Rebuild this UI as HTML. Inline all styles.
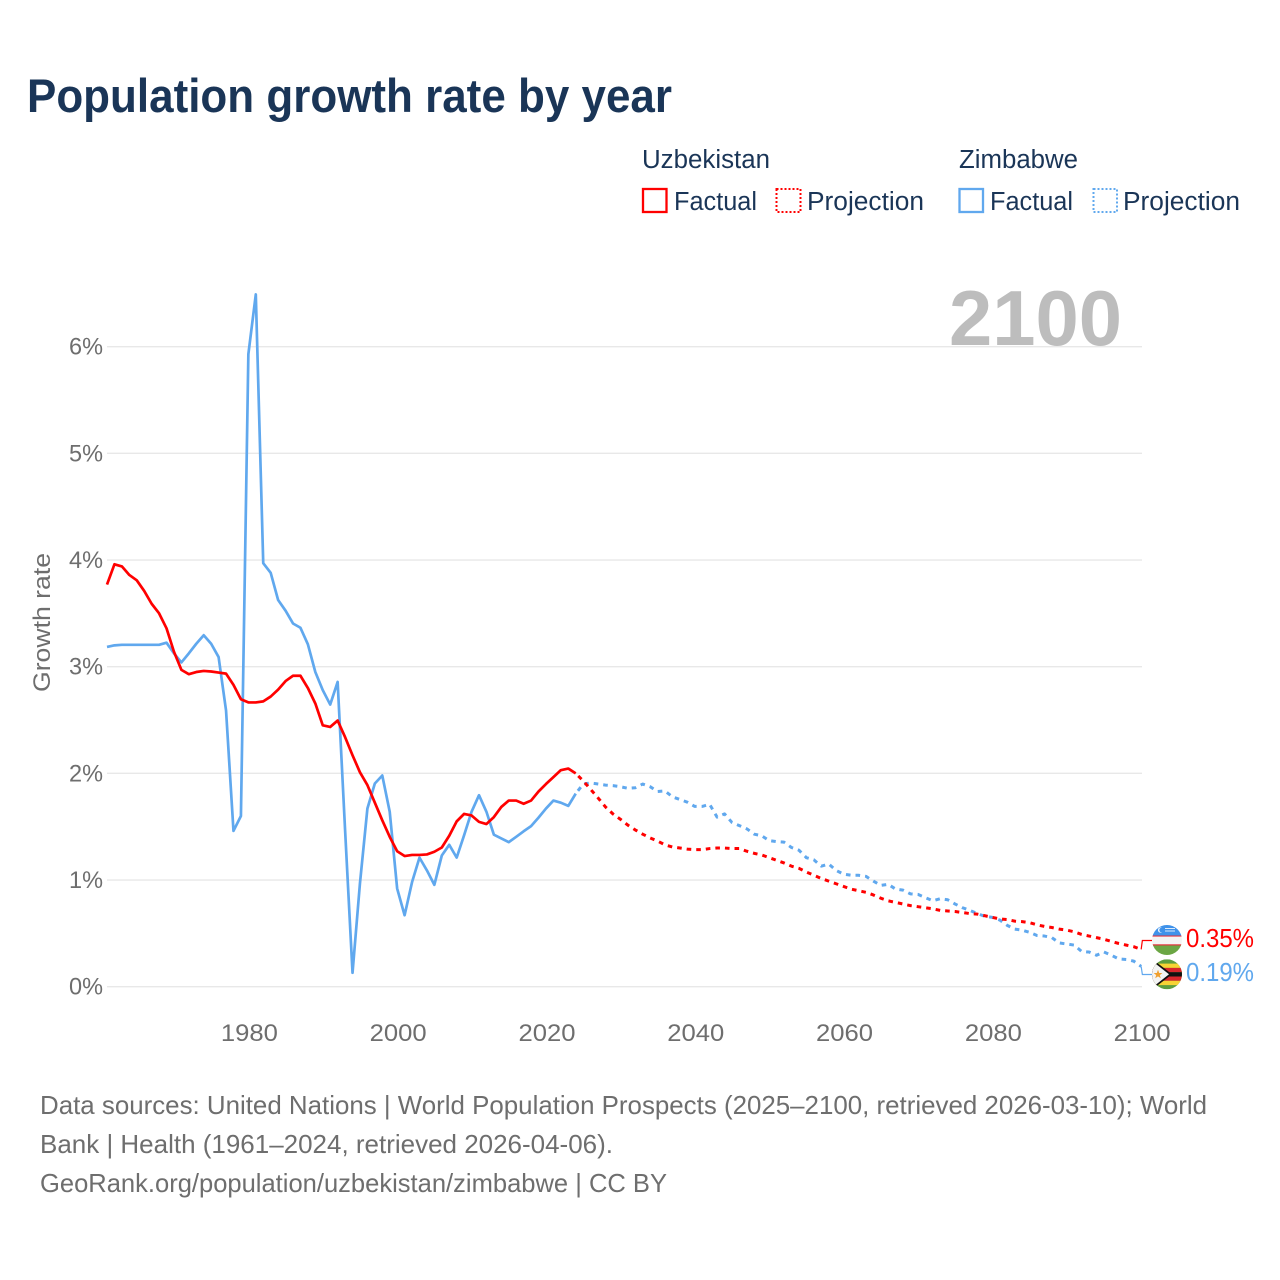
<!DOCTYPE html>
<html lang="en">
<head>
<meta charset="utf-8">
<title>Population growth rate by year</title>
<style>
html,body{margin:0;padding:0;background:#fff;}
svg{display:block;font-family:"Liberation Sans",sans-serif;}
.grid{stroke:#e8e8e8;stroke-width:1.4;}
.tick{font-size:24px;fill:#6e6e6e;}
.legend{font-size:25.5px;fill:#1a3557;}
.foot{font-size:26px;fill:#6e6e6e;}
.line{fill:none;stroke-width:2.7;stroke-linejoin:round;}
.proj{stroke-width:3;stroke-dasharray:4.6 5;stroke-dashoffset:6;}
</style>
</head>
<body>
<svg id="chart" xmlns="http://www.w3.org/2000/svg" width="1280" height="1280" viewBox="0 0 1280 1280">
  <rect width="1280" height="1280" fill="#ffffff"/>
  <text x="27" y="112" font-size="47" font-weight="700" fill="#1a3557" textLength="645" lengthAdjust="spacingAndGlyphs">Population growth rate by year</text>

  <g>
    <text class="legend" x="642" y="168" textLength="128" lengthAdjust="spacingAndGlyphs">Uzbekistan</text>
    <text class="legend" x="959" y="168" textLength="119" lengthAdjust="spacingAndGlyphs">Zimbabwe</text>
    <rect x="643" y="189" width="23.5" height="23" fill="none" stroke="#ff0000" stroke-width="2.3"/>
    <text class="legend" x="674" y="210" textLength="83" lengthAdjust="spacingAndGlyphs">Factual</text>
    <rect x="776.5" y="189" width="24" height="23" fill="none" stroke="#ff0000" stroke-width="2" stroke-dasharray="2 2"/>
    <text class="legend" x="807" y="210" textLength="117" lengthAdjust="spacingAndGlyphs">Projection</text>
    <rect x="959.5" y="189" width="23.5" height="23" fill="none" stroke="#60a8ee" stroke-width="2.3"/>
    <text class="legend" x="990" y="210" textLength="83" lengthAdjust="spacingAndGlyphs">Factual</text>
    <rect x="1093.5" y="189" width="23.5" height="23" fill="none" stroke="#60a8ee" stroke-width="2" stroke-dasharray="2 2"/>
    <text class="legend" x="1123" y="210" textLength="117" lengthAdjust="spacingAndGlyphs">Projection</text>
  </g>

  <g id="grid-layer"></g>
  <text x="949" y="345" font-size="78" font-weight="700" fill="#bdbdbd" textLength="173" lengthAdjust="spacingAndGlyphs">2100</text>
  <g id="y-tick-layer"></g>
  <g id="x-tick-layer"></g>
  <text class="tick" x="0" y="0" transform="translate(50,622.5) rotate(-90)" text-anchor="middle" textLength="139" lengthAdjust="spacingAndGlyphs">Growth rate</text>
  <g id="series-layer"></g>

  <defs>
    <clipPath id="clip-uz"><circle cx="1167" cy="940" r="15"/></clipPath>
    <clipPath id="clip-zw"><circle cx="1167" cy="974.3" r="15"/></clipPath>
  </defs>
  <g clip-path="url(#clip-uz)">
    <rect x="1152" y="925" width="30" height="10.5" fill="#3f92ea"/>
    <rect x="1152" y="935.5" width="30" height="1.2" fill="#e0303a"/>
    <rect x="1152" y="936.7" width="30" height="7.6" fill="#f4f4f4"/>
    <rect x="1152" y="944.3" width="30" height="1.2" fill="#e0303a"/>
    <rect x="1152" y="945.5" width="30" height="9.5" fill="#6ba644"/>
    <circle cx="1160.5" cy="930" r="2.6" fill="#f0f6fd"/>
    <circle cx="1161.6" cy="930" r="2.3" fill="#3f92ea"/>
    <rect x="1165" y="928" width="10" height="1" fill="#dcebfb"/>
    <rect x="1165" y="930.5" width="10" height="1" fill="#dcebfb"/>
  </g>
  <g clip-path="url(#clip-zw)">
    <rect x="1152" y="959.3" width="30" height="30" fill="#5f9e3f"/>
    <rect x="1152" y="963.6" width="30" height="4.3" fill="#f7d335"/>
    <rect x="1152" y="967.9" width="30" height="4.3" fill="#d8262c"/>
    <rect x="1152" y="972.2" width="30" height="4.3" fill="#111111"/>
    <rect x="1152" y="976.5" width="30" height="4.3" fill="#d8262c"/>
    <rect x="1152" y="980.8" width="30" height="4.3" fill="#f7d335"/>
    <polygon points="1150,957.3 1172,974.3 1150,991.3" fill="#111111"/>
    <polygon points="1150,959.3 1169,974.3 1150,989.3" fill="#f4f4f4"/>
    <polygon points="1158,969.8 1159.2,973 1162.4,973 1159.8,975.1 1160.8,978.3 1158,976.4 1155.2,978.3 1156.2,975.1 1153.6,973 1156.8,973" fill="#f0a030"/>
  </g>

  <g>
    <text class="foot" x="40" y="1114" textLength="1167" lengthAdjust="spacingAndGlyphs">Data sources: United Nations | World Population Prospects (2025–2100, retrieved 2026-03-10); World</text>
    <text class="foot" x="40" y="1153" textLength="573" lengthAdjust="spacingAndGlyphs">Bank | Health (1961–2024, retrieved 2026-04-06).</text>
    <text class="foot" x="40" y="1192" textLength="627" lengthAdjust="spacingAndGlyphs">GeoRank.org/population/uzbekistan/zimbabwe | CC BY</text>
  </g>
</svg>
<script>
const yTickValues = [0, 1, 2, 3, 4, 5, 6];
const xTickYears = [1980, 2000, 2020, 2040, 2060, 2080, 2100];
const factualStartYear = 1961;
const projectionStartYear = 2024;
const uzbekistanFactual = [
  3.77,3.96,3.94,3.86,3.81,3.71,3.59,3.50,3.36,3.14,
  2.97,2.93,2.95,2.96,2.955,2.945,2.935,2.83,2.695,2.665,
  2.665,2.675,2.72,2.785,2.865,2.915,2.915,2.80,2.655,2.45,
  2.435,2.495,2.34,2.17,2.01,1.89,1.725,1.56,1.405,1.27,
  1.225,1.235,1.235,1.24,1.265,1.305,1.415,1.55,1.62,1.605,
  1.545,1.525,1.59,1.685,1.745,1.745,1.715,1.745,1.83,1.90,
  1.965,2.03,2.045,2.0
];
const zimbabweFactual = [
  3.185,3.20,3.205,3.205,3.205,3.205,3.205,3.205,3.225,3.125,
  3.04,3.125,3.215,3.295,3.215,3.09,2.59,1.46,1.60,5.93,
  6.49,3.97,3.88,3.625,3.525,3.405,3.365,3.21,2.95,2.78,
  2.645,2.857,1.47,0.13,0.97,1.67,1.905,1.98,1.64,0.92,
  0.67,0.98,1.21,1.09,0.955,1.23,1.33,1.21,1.42,1.64,
  1.795,1.64,1.425,1.39,1.355,1.405,1.457,1.505,1.585,1.67,
  1.745,1.725,1.695,1.81
];
const uzbekistanProjection = [
  2.0,1.93,1.85,1.77,1.685,1.62,1.57,
  1.515,1.47,1.43,1.395,1.365,1.33,1.31,1.30,1.29,1.285,
  1.285,1.295,1.30,1.30,1.295,1.295,1.27,1.25,1.235,1.21,
  1.185,1.16,1.13,1.11,1.075,1.045,1.015,0.99,0.965,0.94,
  0.915,0.90,0.885,0.86,0.83,0.805,0.79,0.775,0.76,0.75,
  0.74,0.73,0.715,0.71,0.705,0.695,0.685,0.68,0.665,0.65,
  0.635,0.63,0.615,0.61,0.60,0.58,0.565,0.555,0.54,0.53,
  0.515,0.49,0.475,0.46,0.445,0.425,0.405,0.39,0.375,0.35
];
const zimbabweProjection = [
  1.81,1.90,1.91,1.90,1.89,1.885,1.875,
  1.86,1.865,1.90,1.875,1.83,1.835,1.78,1.755,1.73,1.69,
  1.69,1.71,1.59,1.62,1.54,1.51,1.48,1.43,1.415,1.37,
  1.36,1.355,1.305,1.28,1.21,1.19,1.13,1.15,1.09,1.055,
  1.045,1.045,1.035,0.99,0.95,0.96,0.915,0.905,0.87,0.865,
  0.835,0.805,0.825,0.815,0.775,0.74,0.715,0.685,0.66,0.65,
  0.625,0.575,0.54,0.53,0.51,0.48,0.475,0.46,0.41,0.40,
  0.39,0.33,0.325,0.295,0.325,0.295,0.26,0.255,0.24,0.19
];

const SVG_NS = 'http://www.w3.org/2000/svg';
const xScale = function (year) { return 107 + (year - 1961) * 7.44; };
const yScale = function (value) { return 986.7 - value * 106.67; };

function make(tag, parent, attrs) {
  const el = document.createElementNS(SVG_NS, tag);
  Object.keys(attrs).forEach(function (k) { el.setAttribute(k, attrs[k]); });
  parent.appendChild(el);
  return el;
}
function pathFrom(values, startYear) {
  return values.map(function (v, i) {
    return (i ? 'L' : 'M') + xScale(startYear + i).toFixed(2) + ' ' + yScale(v).toFixed(2);
  }).join(' ');
}

const gridLayer = document.getElementById('grid-layer');
const yTickLayer = document.getElementById('y-tick-layer');
const xTickLayer = document.getElementById('x-tick-layer');
const seriesLayer = document.getElementById('series-layer');

yTickValues.forEach(function (v) {
  const line = make('line', gridLayer, { x1: 107, x2: 1142, y1: yScale(v), y2: yScale(v), class: 'grid' });
  
  
  const label = make('text', yTickLayer, { x: 103, y: yScale(v) + 8, 'text-anchor': 'end', class: 'tick', textLength: 34, lengthAdjust: 'spacingAndGlyphs' });
  label.textContent = v + '%';
  
  
});

xTickYears.forEach(function (yr) {
  const label = make('text', xTickLayer, { x: xScale(yr) + 1, y: 1041, 'text-anchor': 'middle', class: 'tick', textLength: 57, lengthAdjust: 'spacingAndGlyphs' });
  label.textContent = String(yr);
  
  
});

const BLUE = '#60a8ee';
const RED = '#ff0000';

const zwFactualLine = make('path', seriesLayer, { d: pathFrom(zimbabweFactual, factualStartYear), class: 'line', stroke: BLUE });


const zwProjectionLine = make('path', seriesLayer, { d: pathFrom(zimbabweProjection, projectionStartYear), class: 'line proj', stroke: BLUE });


const uzFactualLine = make('path', seriesLayer, { d: pathFrom(uzbekistanFactual, factualStartYear), class: 'line', stroke: RED });


const uzProjectionLine = make('path', seriesLayer, { d: pathFrom(uzbekistanProjection, projectionStartYear), class: 'line proj', stroke: RED });



const lastUz = uzbekistanProjection[uzbekistanProjection.length - 1];
const lastZw = zimbabweProjection[zimbabweProjection.length - 1];
const endX = xScale(2100);

const uzLeader = make('path', seriesLayer, { d: 'M' + endX + ' ' + yScale(lastUz) + ' L' + (endX + 1.2) + ' 940.5 L1152 940.5', fill: 'none', stroke: RED, 'stroke-width': 1.2 });


const zwLeader = make('path', seriesLayer, { d: 'M' + endX + ' ' + yScale(lastZw) + ' L' + (endX + 1.2) + ' 974.5 L1152 974.5', fill: 'none', stroke: BLUE, 'stroke-width': 1.2 });



const uzEndLabel = make('text', seriesLayer, { x: 1186, y: 947, 'font-size': 25.5, fill: RED, textLength: 68, lengthAdjust: 'spacingAndGlyphs' });
uzEndLabel.textContent = lastUz.toFixed(2) + '%';


const zwEndLabel = make('text', seriesLayer, { x: 1186, y: 981, 'font-size': 25.5, fill: BLUE, textLength: 68, lengthAdjust: 'spacingAndGlyphs' });
zwEndLabel.textContent = lastZw.toFixed(2) + '%';


</script>
</body>
</html>
